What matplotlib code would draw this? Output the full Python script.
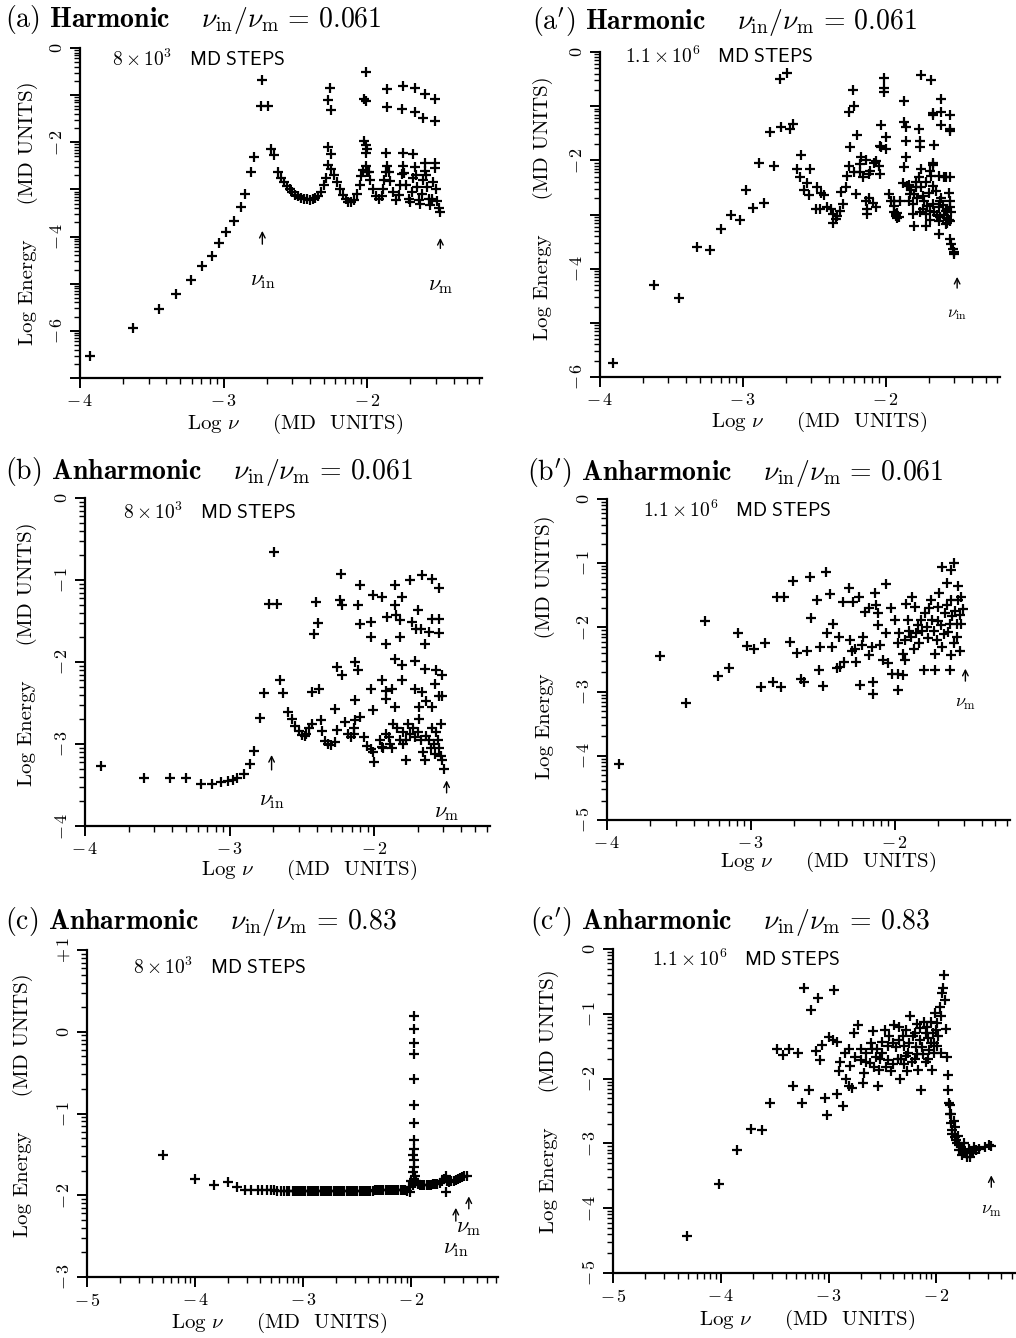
import numpy as np
import matplotlib
matplotlib.use('Agg')
import matplotlib.pyplot as plt
from matplotlib.ticker import FixedLocator, FixedFormatter

plt.rcParams['font.family'] = 'cmr10'
plt.rcParams['mathtext.fontset'] = 'cm'
plt.rcParams['axes.formatter.use_mathtext'] = True

# ---------------- data (log nu, log energy) ----------------
# (a) harmonic, 8e3 steps
a_rise = np.array([
    [-3.93, -6.54], [-3.63, -5.93], [-3.45, -5.54], [-3.33, -5.22], [-3.23, -4.92],
    [-3.15, -4.62], [-3.08, -4.41], [-3.03, -4.13], [-2.98, -3.90], [-2.93, -3.66],
    [-2.88, -3.38], [-2.85, -3.10], [-2.81, -2.63], [-2.79, -2.31]])
a_comb = np.array([
    [-2.67, -2.14], [-2.65, -2.28],
    [-2.62, -2.62], [-2.60, -2.75], [-2.58, -2.85], [-2.56, -2.93], [-2.54, -3.00],
    [-2.52, -3.06], [-2.50, -3.11], [-2.48, -3.15], [-2.46, -3.18], [-2.44, -3.20],
    [-2.42, -3.21], [-2.40, -3.22], [-2.38, -3.21], [-2.36, -3.19], [-2.34, -3.14],
    [-2.32, -3.05], [-2.30, -2.90], [-2.285, -2.75],
    [-2.27, -2.49], [-2.25, -2.57],
    [-2.23, -2.70], [-2.21, -2.85], [-2.19, -3.00], [-2.17, -3.12], [-2.15, -3.20],
    [-2.13, -3.26], [-2.11, -3.27], [-2.09, -3.22], [-2.07, -3.10], [-2.05, -2.90],
    [-2.04, -2.72], [-2.03, -2.58], [-2.01, -2.50], [-2.00, -2.64],
    [-1.99, -2.62], [-1.98, -2.80], [-1.96, -3.00], [-1.94, -3.15], [-1.92, -3.21],
    [-1.90, -3.15], [-1.89, -3.00], [-1.88, -2.80], [-1.87, -2.62], [-1.86, -2.50],
    [-1.85, -2.62], [-1.84, -2.82], [-1.82, -3.05], [-1.80, -3.22], [-1.78, -3.12],
    [-1.77, -2.90], [-1.76, -2.68], [-1.75, -2.50],
    [-1.74, -2.66], [-1.73, -2.90], [-1.71, -3.20], [-1.70, -3.27], [-1.69, -3.05],
    [-1.68, -2.75], [-1.67, -2.52],
    [-1.66, -2.70], [-1.65, -2.95], [-1.64, -3.22], [-1.63, -3.30], [-1.62, -3.10],
    [-1.61, -2.80], [-1.60, -2.60],
    [-1.59, -2.70], [-1.58, -2.95], [-1.57, -3.20], [-1.56, -3.34], [-1.55, -3.20],
    [-1.54, -2.85], [-1.53, -2.55],
    [-1.52, -3.00], [-1.51, -3.25], [-1.50, -3.40], [-1.49, -3.48]])
a_high = np.array([
    [-2.73, -0.67], [-2.74, -1.24], [-2.69, -1.24],
    [-2.26, -0.84], [-2.27, -1.10], [-2.25, -1.31], [-2.27, -2.10], [-2.25, -2.24],
    [-2.01, -0.51], [-2.02, -1.08], [-2.01, -1.12], [-2.02, -1.98], [-2.01, -2.06],
    [-2.00, -2.14], [-2.01, -2.22],
    [-1.86, -0.88], [-1.86, -1.26], [-1.87, -2.22],
    [-1.75, -0.80], [-1.76, -1.30], [-1.75, -2.22],
    [-1.67, -0.85], [-1.67, -1.35], [-1.68, -2.24],
    [-1.60, -0.98], [-1.61, -1.48], [-1.60, -2.45],
    [-1.53, -1.08], [-1.53, -1.54], [-1.53, -2.45]])

# (a') harmonic, 1.1e6 steps
a2_pts = np.array([
    [-3.91, -5.74], [-3.62, -4.30], [-3.45, -4.54], [-3.32, -3.60], [-3.23, -3.66],
    [-3.15, -3.26], [-3.08, -3.01], [-3.02, -3.10], [-2.98, -2.55], [-2.93, -2.88],
    [-2.85, -2.78], [-2.89, -2.05], [-2.81, -1.47], [-2.78, -2.10], [-2.74, -0.49],
    [-2.69, -0.39], [-2.73, -1.38], [-2.67, -1.42], [-2.65, -1.33], [-2.62, -2.16],
    [-2.59, -1.90], [-2.60, -2.30], [-2.55, -2.42], [-2.53, -2.16], [-2.57, -2.55],
    [-2.54, -2.64], [-2.48, -2.49], [-2.45, -2.61], [-2.43, -2.64], [-2.49, -2.90],
    [-2.46, -2.90], [-2.41, -2.86], [-2.38, -2.90], [-2.37, -2.99], [-2.35, -3.09],
    [-2.34, -3.02], [-2.37, -3.15], [-2.32, -2.94], [-2.30, -2.81], [-2.28, -2.49],
    [-2.31, -2.59], [-2.27, -2.28], [-2.26, -2.10], [-2.21, -2.62], [-2.25, -1.75],
    [-2.20, -1.53], [-2.26, -1.10], [-2.22, -0.99], [-2.23, -0.71], [-2.22, -2.22],
    [-2.18, -2.22], [-2.18, -2.07], [-2.17, -1.94], [-2.14, -1.99], [-2.16, -2.30],
    [-2.12, -2.25], [-2.14, -2.75], [-2.13, -2.90], [-2.12, -2.69], [-2.09, -2.78],
    [-2.07, -2.87], [-2.13, -2.99], [-2.11, -2.19], [-2.08, -2.04], [-2.07, -2.01],
    [-2.05, -2.10], [-2.04, -2.25], [-2.03, -1.34], [-2.00, -1.57], [-2.04, -1.73],
    [-2.03, -1.76], [-2.00, -1.79], [-2.01, -0.48], [-2.01, -0.66], [-2.01, -0.74],
    [-1.98, -2.62], [-1.96, -2.75], [-1.94, -2.84], [-1.93, -2.99], [-1.92, -3.06],
    [-1.94, -2.75], [-1.90, -2.75], [-1.87, -0.90], [-1.87, -1.30], [-1.86, -1.39],
    [-1.86, -1.64], [-1.86, -1.94], [-1.87, -2.13], [-1.88, -2.41], [-1.85, -2.47],
    [-1.83, -2.62], [-1.84, -2.75], [-1.81, -2.81], [-1.80, -2.62], [-1.79, -2.50],
    [-1.81, -2.99], [-1.80, -3.21], [-1.77, -1.42], [-1.76, -1.64], [-1.76, -1.76],
    [-1.75, -0.43], [-1.75, -2.16], [-1.77, -2.31], [-1.75, -2.50], [-1.73, -2.75],
    [-1.74, -2.90], [-1.72, -2.99], [-1.72, -3.21], [-1.69, -2.93], [-1.67, -2.81],
    [-1.68, -0.52], [-1.67, -1.13], [-1.67, -1.17], [-1.66, -1.71], [-1.67, -2.05],
    [-1.67, -2.09], [-1.68, -2.28], [-1.67, -2.47], [-1.65, -2.56], [-1.63, -2.87],
    [-1.63, -3.12], [-1.63, -3.36], [-1.61, -0.86], [-1.61, -1.11], [-1.61, -1.34],
    [-1.59, -2.31], [-1.61, -2.69], [-1.58, -2.93], [-1.57, -3.06], [-1.55, -1.17],
    [-1.55, -1.42], [-1.55, -1.46], [-1.55, -2.75], [-1.55, -2.87], [-1.55, -3.12],
    [-1.57, -3.15], [-1.55, -3.46], [-1.54, -3.55], [-1.53, -3.64], [-1.52, -3.73],
    [-1.52, -3.69], [-1.94, -2.95], [-1.93, -3.03], [-1.92, -2.98], [-1.91, -3.05],
    [-1.62, -2.75], [-1.60, -2.82], [-1.59, -3.00], [-1.57, -2.90], [-1.56, -3.10],
    [-1.58, -3.18], [-1.62, -3.05], [-1.64, -3.00], [-1.66, -2.95], [-1.69, -3.10],
    [-1.71, -2.85], [-1.70, -2.60], [-1.74, -2.65], [-1.78, -2.70], [-1.76, -2.95],
    [-1.82, -2.55], [-1.84, -2.45], [-1.79, -2.40], [-1.72, -2.40], [-1.69, -2.20],
    [-1.63, -2.28], [-1.58, -2.30], [-1.55, -2.31], [-1.56, -2.60], [-1.54, -2.95]])

# (b) anharmonic, 8e3 steps
b_pts = np.array([
    [-3.89, -3.27], [-3.59, -3.41], [-3.41, -3.42], [-3.30, -3.42], [-3.20, -3.49],
    [-3.12, -3.49], [-3.06, -3.46], [-3.01, -3.45], [-2.98, -3.44], [-2.95, -3.42],
    [-2.90, -3.36], [-2.86, -3.24], [-2.83, -3.08], [-2.79, -2.68], [-2.76, -2.38],
    [-2.69, -0.66], [-2.73, -1.29], [-2.67, -1.29], [-2.65, -2.22], [-2.63, -2.38],
    [-2.60, -2.61], [-2.57, -2.69], [-2.55, -2.78], [-2.52, -2.84], [-2.50, -2.89],
    [-2.48, -2.90], [-2.47, -2.88], [-2.45, -2.80], [-2.43, -2.76], [-2.43, -2.37],
    [-2.38, -2.33], [-2.42, -1.66], [-2.39, -1.53], [-2.40, -1.27], [-2.37, -2.71],
    [-2.36, -2.84], [-2.34, -2.96], [-2.32, -3.00], [-2.30, -3.01], [-2.27, -2.98],
    [-2.26, -2.83], [-2.27, -2.57], [-2.26, -2.06], [-2.22, -2.16], [-2.23, -0.93],
    [-2.24, -1.24], [-2.22, -1.31], [-2.20, -2.73], [-2.18, -2.88], [-2.16, -2.92],
    [-2.14, -2.88], [-2.14, -2.80], [-2.13, -2.71], [-2.13, -2.00], [-2.11, -2.10],
    [-2.13, -2.46], [-2.10, -1.06], [-2.11, -1.31], [-2.10, -1.54], [-2.10, -2.67],
    [-2.07, -2.92], [-2.05, -3.02], [-2.02, -3.06], [-2.01, -3.10], [-2.00, -3.22],
    [-2.02, -2.33], [-2.01, -2.58], [-2.01, -1.18], [-2.02, -1.51], [-2.02, -1.69],
    [-1.95, -2.22], [-1.95, -1.21], [-1.92, -1.78], [-1.95, -3.04], [-1.92, -2.88],
    [-1.92, -2.45], [-1.92, -2.35], [-1.91, -1.45], [-1.86, -1.06], [-1.86, -1.31],
    [-1.89, -3.00], [-1.87, -2.76], [-1.86, -2.55], [-1.88, -2.33], [-1.86, -1.96],
    [-1.85, -1.43], [-1.82, -1.49], [-1.81, -1.21], [-1.82, -1.69], [-1.81, -2.04],
    [-1.81, -2.22], [-1.78, -3.20], [-1.80, -3.00], [-1.75, -1.00], [-1.74, -1.51],
    [-1.71, -1.60], [-1.68, -1.60], [-1.70, -1.37], [-1.72, -1.99], [-1.72, -2.33],
    [-1.69, -2.55], [-1.67, -0.94], [-1.65, -1.78], [-1.65, -2.08], [-1.67, -2.36],
    [-1.64, -2.47], [-1.60, -0.99], [-1.60, -1.47], [-1.62, -1.64], [-1.60, -2.55],
    [-1.58, -2.27], [-1.57, -2.10], [-1.55, -1.10], [-1.55, -1.47], [-1.55, -1.65],
    [-1.55, -2.41], [-1.53, -2.16], [-1.53, -2.41],
    [-1.84, -2.80], [-1.82, -2.95], [-1.80, -2.85], [-1.78, -2.95], [-1.77, -2.75],
    [-1.75, -2.88], [-1.73, -2.80], [-1.72, -2.92], [-1.70, -2.85], [-1.69, -2.70],
    [-1.68, -2.95], [-1.66, -3.10], [-1.65, -3.20], [-1.64, -2.90], [-1.62, -2.95],
    [-1.61, -3.05], [-1.60, -2.80], [-1.59, -3.00], [-1.58, -3.12], [-1.57, -2.85],
    [-1.56, -2.95], [-1.55, -3.05], [-1.54, -3.15], [-1.53, -3.20], [-1.52, -3.31],
    [-1.54, -2.75], [-1.96, -2.95], [-1.94, -3.05], [-1.90, -2.92], [-1.88, -3.05]])

# (b') anharmonic, 1.1e6 steps
b2_pts = np.array([
    [-3.92, -4.13], [-3.63, -2.45], [-3.45, -3.18], [-3.32, -1.90], [-3.23, -2.76],
    [-3.15, -2.63], [-3.09, -2.09], [-3.03, -2.29], [-2.98, -2.34], [-2.90, -2.25],
    [-2.93, -2.93], [-2.85, -2.85], [-2.79, -2.93], [-2.82, -1.52], [-2.77, -1.53],
    [-2.73, -2.23], [-2.71, -1.27], [-2.68, -2.40], [-2.65, -2.80], [-2.63, -2.85],
    [-2.61, -2.37], [-2.59, -1.21], [-2.58, -1.86], [-2.54, -1.58], [-2.53, -2.67],
    [-2.52, -2.31], [-2.50, -2.92], [-2.48, -1.14], [-2.47, -2.09], [-2.45, -1.48],
    [-2.44, -2.30], [-2.43, -1.94], [-2.39, -2.15], [-2.38, -2.61], [-2.36, -1.60],
    [-2.40, -2.64], [-2.35, -2.54], [-2.32, -1.39], [-2.31, -2.20], [-2.30, -2.37],
    [-2.28, -2.33], [-2.29, -1.60], [-2.27, -2.54], [-2.24, -2.90], [-2.25, -1.52],
    [-2.23, -2.28], [-2.22, -2.15], [-2.21, -1.76], [-2.18, -1.70], [-2.18, -2.43],
    [-2.15, -2.85], [-2.15, -3.03], [-2.16, -2.31], [-2.14, -1.47], [-2.13, -1.65],
    [-2.12, -1.96], [-2.12, -1.78], [-2.10, -2.27], [-2.08, -2.51], [-2.06, -1.32],
    [-2.06, -2.09], [-2.05, -2.56], [-2.03, -1.70], [-2.02, -2.72], [-2.00, -1.89],
    [-1.98, -2.98], [-1.98, -2.25], [-1.98, -2.72], [-1.97, -2.09], [-1.94, -2.74],
    [-1.93, -2.51], [-1.94, -2.41], [-1.93, -2.20], [-1.92, -1.63], [-1.91, -1.89],
    [-1.88, -1.52], [-1.87, -2.33], [-1.86, -1.68], [-1.85, -2.09], [-1.84, -1.96],
    [-1.83, -2.25], [-1.80, -2.67], [-1.79, -1.78], [-1.78, -1.99], [-1.77, -2.17],
    [-1.75, -1.57], [-1.74, -1.89], [-1.72, -2.67], [-1.72, -2.41], [-1.71, -2.20],
    [-1.70, -1.68], [-1.69, -1.47], [-1.68, -1.96], [-1.67, -1.06], [-1.67, -2.30],
    [-1.65, -1.78], [-1.64, -1.31], [-1.63, -2.07], [-1.62, -2.67], [-1.61, -1.10],
    [-1.61, -1.57], [-1.61, -2.43], [-1.60, -1.83], [-1.59, -1.00], [-1.57, -2.15],
    [-1.56, -1.36], [-1.56, -1.57], [-1.55, -2.36], [-1.54, -1.52], [-1.54, -1.94],
    [-1.53, -1.71], [-1.90, -2.05], [-1.89, -2.15], [-1.82, -1.88], [-1.81, -2.05],
    [-1.76, -1.70], [-1.73, -2.05], [-1.70, -1.90], [-1.66, -2.10], [-1.64, -1.65],
    [-1.62, -1.95], [-1.58, -1.75], [-1.57, -1.95], [-1.55, -1.80], [-1.59, -2.25]])

# (c) anharmonic, nu_in/nu_m = 0.83, 8e3 steps
c_left = np.array([[-4.30, -1.51], [-4.00, -1.80], [-3.83, -1.88], [-3.70, -1.84], [-3.61, -1.90]])
c_flat_x = [-3.54, -3.48, -3.42, -3.38, -3.34, -3.30, -3.27, -3.24, -3.21, -3.18,
            -3.15, -3.13, -3.10, -3.08, -3.06, -3.04, -3.02, -3.00, -2.98, -2.96,
            -2.94, -2.92, -2.90, -2.88, -2.86, -2.84, -2.82, -2.80, -2.78, -2.76,
            -2.74, -2.72, -2.70, -2.68, -2.66, -2.64, -2.62, -2.60, -2.58, -2.56,
            -2.54, -2.52, -2.50, -2.48, -2.46, -2.44, -2.42, -2.40, -2.38, -2.36,
            -2.34, -2.32, -2.30, -2.28, -2.26, -2.24, -2.22, -2.20, -2.18, -2.16,
            -2.14, -2.12, -2.10, -2.08, -2.06, -2.04]
c_flat_y = [-1.93, -1.94, -1.94, -1.94, -1.94, -1.94, -1.94, -1.95, -1.95, -1.95,
            -1.95, -1.95, -1.95, -1.95, -1.95, -1.95, -1.95, -1.95, -1.95, -1.95,
            -1.95, -1.95, -1.95, -1.95, -1.95, -1.95, -1.95, -1.95, -1.95, -1.95,
            -1.95, -1.95, -1.95, -1.95, -1.95, -1.95, -1.95, -1.95, -1.95, -1.95,
            -1.95, -1.95, -1.95, -1.95, -1.95, -1.95, -1.95, -1.95, -1.95, -1.95,
            -1.94, -1.94, -1.94, -1.94, -1.94, -1.94, -1.94, -1.94, -1.94, -1.94,
            -1.94, -1.94, -1.94, -1.93, -1.93, -1.95]
c_peak = np.array([
    [-1.98, 0.19], [-1.98, 0.03], [-1.98, -0.14], [-1.98, -0.27], [-1.98, -0.58],
    [-1.98, -0.90], [-1.98, -1.12], [-1.98, -1.33], [-1.98, -1.43], [-1.985, -1.51],
    [-1.975, -1.57], [-1.98, -1.65], [-1.99, -1.72], [-1.97, -1.76], [-2.00, -1.82],
    [-1.99, -1.88], [-2.02, -1.90], [-2.01, -1.96], [-1.98, -1.80], [-1.97, -1.85]])
c_right = np.array([
    [-1.96, -1.82], [-1.94, -1.86], [-1.92, -1.87], [-1.90, -1.87], [-1.88, -1.87],
    [-1.86, -1.87], [-1.84, -1.87], [-1.82, -1.87], [-1.80, -1.86], [-1.78, -1.86],
    [-1.76, -1.86], [-1.74, -1.85], [-1.72, -1.83], [-1.70, -1.80], [-1.68, -1.76],
    [-1.68, -1.96], [-1.67, -1.83], [-1.65, -1.84], [-1.63, -1.83], [-1.61, -1.82],
    [-1.59, -1.81], [-1.57, -1.80], [-1.55, -1.79], [-1.53, -1.78], [-1.51, -1.77],
    [-1.49, -1.76]])

# (c') anharmonic, nu_in/nu_m = 0.83, 1.1e6 steps
c2_pts = np.array([
    [-4.31, -4.43], [-4.02, -3.63], [-3.85, -3.10], [-3.72, -2.78], [-3.62, -2.79],
    [-3.54, -2.37], [-3.48, -1.55], [-3.42, -1.63], [-3.37, -1.55], [-3.33, -2.12],
    [-3.28, -1.61], [-3.25, -2.37], [-3.23, -0.60], [-3.18, -2.18], [-3.16, -0.94],
    [-3.12, -1.58], [-3.10, -0.76], [-3.08, -1.71], [-3.06, -1.48], [-3.03, -2.30],
    [-3.01, -2.56], [-3.00, -1.36], [-2.96, -1.40], [-2.95, -0.63], [-2.92, -1.43],
    [-2.92, -2.24], [-2.89, -1.74], [-2.90, -1.89], [-2.87, -2.43], [-2.84, -2.00],
    [-2.81, -1.55], [-2.81, -2.12], [-2.78, -2.15], [-2.76, -1.30], [-2.73, -1.17],
    [-2.75, -1.66], [-2.70, -1.71], [-2.68, -2.07], [-2.67, -1.92], [-2.65, -1.61],
    [-2.62, -1.76], [-2.61, -1.45], [-2.59, -1.27], [-2.56, -1.66], [-2.54, -2.12],
    [-2.53, -1.87], [-2.50, -1.43], [-2.48, -1.25], [-2.45, -1.71], [-2.44, -1.34],
    [-2.42, -1.89], [-2.39, -1.17], [-2.37, -1.51], [-2.34, -2.00], [-2.33, -1.69],
    [-2.31, -1.35], [-2.28, -1.65], [-2.27, -1.89], [-2.24, -1.04], [-2.22, -1.35],
    [-2.20, -1.69], [-2.19, -1.51], [-2.17, -1.86], [-2.15, -1.22], [-2.14, -2.18],
    [-2.13, -1.51], [-2.11, -1.12], [-2.10, -1.75], [-2.08, -1.38], [-2.07, -1.56],
    [-2.05, -1.12], [-2.04, -1.86], [-2.03, -1.30], [-2.02, -1.45], [-1.99, -1.14],
    [-1.98, -1.35], [-1.97, -0.89], [-1.96, -1.61], [-1.96, -1.04], [-1.95, -0.68],
    [-1.94, -0.60], [-1.93, -0.40], [-1.92, -0.78], [-1.91, -1.24], [-1.90, -1.66],
    [-1.89, -1.94], [-1.89, -2.18], [-1.88, -2.38], [-1.87, -2.54], [-1.86, -2.69],
    [-1.85, -2.79], [-1.83, -2.90], [-1.81, -3.00], [-1.79, -3.10], [-1.76, -3.18],
    [-1.72, -3.21], [-1.69, -3.21], [-1.66, -3.15], [-1.63, -3.10], [-1.60, -3.08],
    [-1.55, -3.05], [-1.51, -3.03], [-1.49, -3.04],
    [-1.87, -2.40], [-1.86, -2.55], [-1.84, -2.65], [-1.85, -2.85], [-1.83, -2.75],
    [-1.82, -2.95], [-1.80, -2.88], [-1.79, -3.02], [-1.77, -3.05], [-1.75, -3.10],
    [-1.74, -3.00], [-1.73, -3.15], [-1.70, -3.08], [-1.68, -3.12], [-1.65, -3.05],
    [-2.60, -1.55], [-2.55, -1.55], [-2.50, -1.60], [-2.45, -1.50], [-2.40, -1.45],
    [-2.35, -1.40], [-2.30, -1.50], [-2.25, -1.45], [-2.20, -1.30], [-2.15, -1.40],
    [-2.10, -1.30], [-2.05, -1.45], [-2.00, -1.25], [-2.65, -1.75], [-2.58, -1.82],
    [-2.52, -1.70], [-2.47, -1.82], [-2.40, -1.78], [-2.36, -1.70], [-2.30, -1.78],
    [-2.26, -1.60], [-2.23, -1.75], [-2.18, -1.62], [-2.12, -1.62], [-2.08, -1.70],
    [-2.02, -1.60], [-1.99, -1.50], [-2.35, -1.20], [-2.28, -1.25], [-2.18, -1.15],
    [-2.09, -1.20], [-2.01, -0.98], [-2.70, -1.55], [-2.80, -1.80], [-2.85, -1.60]])

# arrows: (x, y_tail, y_head, label, label_y)
arrows = {
    'a': [(-2.73, -4.22, -3.82, r'$\nu_{\rm in}$', -4.95), (-1.49, -4.31, -3.97, r'$\nu_{\rm m}$', -5.05)],
    'a2': [(-1.50, -4.41, -4.10, r'$\nu_{\rm in}$', -4.85)],
    'b': [(-2.71, -3.35, -3.10, r'$\nu_{\rm in}$', -3.70), (-1.50, -3.63, -3.41, r'$\nu_{\rm m}$', -3.85)],
    'b2': [(-1.51, -2.88, -2.60, r'$\nu_{\rm m}$', -3.20)],
    'c': [(-1.59, -2.35, -2.12, r'$\nu_{\rm in}$', -2.66), (-1.47, -2.20, -1.98, r'$\nu_{\rm m}$', -2.40)],
    'c2': [(-1.49, -3.72, -3.45, r'$\nu_{\rm m}$', -4.05)],
}

W, H = 1016, 1338
fig = plt.figure(figsize=(W / 100, H / 100), dpi=100)


def make_ax(left, right, top, bottom):
    return fig.add_axes([left / W, 1 - bottom / H, (right - left) / W, (bottom - top) / H])


def log_minors(lo, hi):
    out = []
    for d in range(int(np.floor(lo)) - 1, int(np.ceil(hi)) + 1):
        for k in range(2, 10):
            v = d + np.log10(k)
            if lo < v < hi:
                out.append(v)
    return out


def lab(v):
    if v > 0:
        return r'$+\,%d$' % v
    if v < 0:
        return r'$-\,%d$' % abs(v)
    return r'$0$'


def style(ax, xlim, ylim, xlabeled, ylabeled):
    ax.set_xlim(*xlim)
    ax.set_ylim(*ylim)
    for s in ['top', 'right']:
        ax.spines[s].set_visible(False)
    for s in ['left', 'bottom']:
        ax.spines[s].set_linewidth(1.6)
    xmaj = list(range(int(np.ceil(xlim[0])), int(np.floor(xlim[1])) + 1))
    ymaj = list(range(int(np.ceil(ylim[0])), int(np.floor(ylim[1])) + 1))
    ax.xaxis.set_major_locator(FixedLocator(xmaj))
    ax.xaxis.set_major_formatter(FixedFormatter([lab(v) if v in xlabeled else '' for v in xmaj]))
    ax.yaxis.set_major_locator(FixedLocator(ymaj))
    ax.yaxis.set_major_formatter(FixedFormatter([lab(v) if v in ylabeled else '' for v in ymaj]))
    ax.xaxis.set_minor_locator(FixedLocator(log_minors(*xlim)))
    ax.yaxis.set_minor_locator(FixedLocator(log_minors(*ylim)))
    ax.tick_params(which='major', direction='out', length=7, width=1.4, labelsize=13)
    ax.tick_params(which='minor', direction='out', length=4, width=1.0)
    ax.tick_params(axis='y', labelrotation=90)
    for t in ax.get_yticklabels():
        t.set_va('center')


def plus(ax, x, y):
    ax.plot(x, y, linestyle='none', marker='+', ms=7, mew=1.6, color='black')


def arrows_on(ax, key, fs=16):
    for x, y0, y1, txt, ty in arrows[key]:
        ax.annotate('', xy=(x, y1), xytext=(x, y0),
                    arrowprops=dict(arrowstyle='->', lw=1.0, color='black'))
        ax.text(x, ty, txt, ha='center', va='center', fontsize=fs)


def labels(ax, ylx, yly, xlx, xly):
    ax.text(ylx, yly, 'Log Energy     (MD UNITS)', rotation=90, ha='center', va='center',
            fontsize=15, transform=ax.transAxes)
    ax.text(xlx, xly, r'Log $\nu$     (MD  UNITS)', ha='center', va='center',
            fontsize=15, transform=ax.transAxes)


def steps(ax, x, y, txt):
    ax.text(x, y, txt, ha='left', va='center', fontsize=14, transform=ax.transAxes)


s8 = r'$8\times10^{3}\ \ \ \mathsf{MD\ STEPS}$'
s11 = r'$1.1\times10^{6}\ \ \ \mathsf{MD\ STEPS}$'

# (a)
ax = make_ax(80, 482, 48, 378)
plus(ax, a_rise[:, 0], a_rise[:, 1])
plus(ax, a_comb[:, 0], a_comb[:, 1])
plus(ax, a_high[:, 0], a_high[:, 1])
style(ax, (-4, -1.2), (-7, 0), [-4, -3, -2], [0, -2, -4, -6])
arrows_on(ax, 'a')
labels(ax, -0.13, 0.50, 0.535, -0.14)
steps(ax, 0.08, 0.965, s8)
fig.text(5 / W, 1 - 20 / H, r'(a) $\mathbf{Harmonic}\quad\ \nu_{\rm in}/\nu_{\rm m}\,=\,0.061$',
         fontsize=20, va='center')

# (a')
ax = make_ax(600, 1000, 52, 377)
plus(ax, a2_pts[:, 0], a2_pts[:, 1])
style(ax, (-4, -1.2), (-6, 0), [-4, -3, -2], [0, -2, -4, -6])
arrows_on(ax, 'a2', fs=12)
labels(ax, -0.142, 0.52, 0.548, -0.138)
steps(ax, 0.062, 0.985, s11)
fig.text(532 / W, 1 - 22 / H, r"(a$'$) $\mathbf{Harmonic}\quad\ \nu_{\rm in}/\nu_{\rm m}\,=\,0.061$",
         fontsize=20, va='center')

# (b)
ax = make_ax(85, 490, 498, 826)
plus(ax, b_pts[:, 0], b_pts[:, 1])
style(ax, (-4, -1.2), (-4, 0), [-4, -3, -2], [0, -1, -2, -3, -4])
arrows_on(ax, 'b')
labels(ax, -0.143, 0.524, 0.553, -0.134)
steps(ax, 0.094, 0.957, s8)
fig.text(5 / W, 1 - 471 / H, r'(b) $\mathbf{Anharmonic}\quad\ \nu_{\rm in}/\nu_{\rm m}\,=\,0.061$',
         fontsize=20, va='center')

# (b')
ax = make_ax(607, 1010, 499, 820)
plus(ax, b2_pts[:, 0], b2_pts[:, 1])
style(ax, (-4, -1.2), (-5, 0), [-4, -3, -2], [0, -1, -2, -3, -4, -5])
arrows_on(ax, 'b2', fs=13)
labels(ax, -0.154, 0.539, 0.549, -0.131)
steps(ax, 0.089, 0.963, s11)
fig.text(527 / W, 1 - 472 / H, r"(b$'$) $\mathbf{Anharmonic}\quad\ \nu_{\rm in}/\nu_{\rm m}\,=\,0.061$",
         fontsize=20, va='center')

# (c)
ax = make_ax(87, 498, 950, 1277)
plus(ax, c_left[:, 0], c_left[:, 1])
plus(ax, c_flat_x, c_flat_y)
plus(ax, c_peak[:, 0], c_peak[:, 1])
plus(ax, c_right[:, 0], c_right[:, 1])
style(ax, (-5, -1.2), (-3, 1), [-5, -4, -3, -2], [1, 0, -1, -2, -3])
arrows_on(ax, 'c')
labels(ax, -0.156, 0.526, 0.467, -0.141)
steps(ax, 0.112, 0.948, s8)
fig.text(5 / W, 1 - 921 / H, r'(c) $\mathbf{Anharmonic}\quad\ \nu_{\rm in}/\nu_{\rm m}\,=\,0.83$',
         fontsize=20, va='center')

# (c')
ax = make_ax(613, 1015, 949, 1273)
plus(ax, c2_pts[:, 0], c2_pts[:, 1])
style(ax, (-5, -1.27), (-5, 0), [-5, -4, -3, -2], [0, -1, -2, -3, -4, -5])
arrows_on(ax, 'c2', fs=13)
labels(ax, -0.159, 0.531, 0.483, -0.145)
steps(ax, 0.097, 0.969, s11)
fig.text(530 / W, 1 - 922 / H, r"(c$'$) $\mathbf{Anharmonic}\quad\ \nu_{\rm in}/\nu_{\rm m}\,=\,0.83$",
         fontsize=20, va='center')

fig.savefig('out.png', dpi=100)
